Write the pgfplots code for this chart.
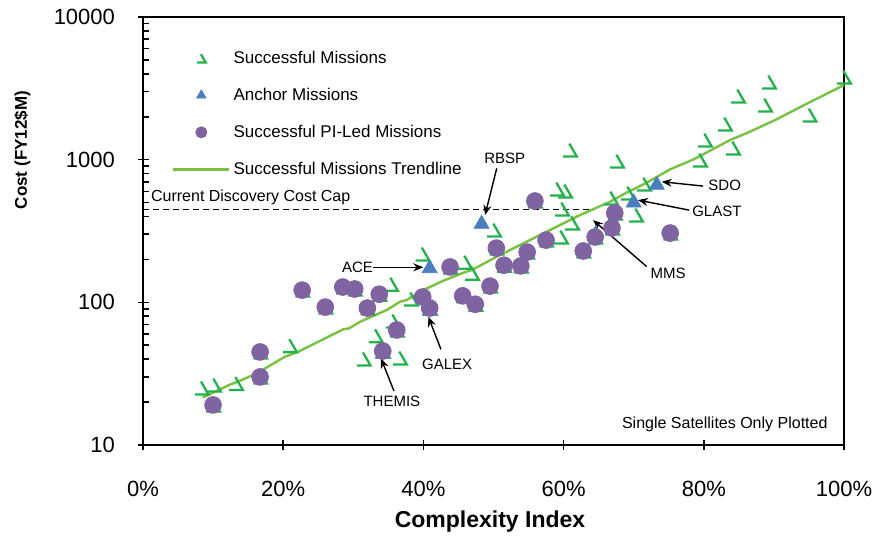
\documentclass[border=0pt]{standalone}
\usepackage{fontspec}
\setmainfont{Liberation Sans}
\usepackage{pgfplots}
\pgfplotsset{compat=1.18}
\usetikzlibrary{arrows.meta}

\definecolor{missgreen}{RGB}{34,177,76}
\definecolor{trendgreen}{RGB}{122,193,66}
\definecolor{anchorblue}{RGB}{74,126,190}
\definecolor{pipurple}{RGB}{128,100,162}

% green "successful mission" marker: slanted stroke with a flat foot
\pgfdeclareplotmark{miss}{%
  \pgfpathmoveto{\pgfqpoint{-0.1\pgfplotmarksize}{0.95\pgfplotmarksize}}%
  \pgfpathlineto{\pgfqpoint{\pgfplotmarksize}{-0.95\pgfplotmarksize}}%
  \pgfpathlineto{\pgfqpoint{-\pgfplotmarksize}{-0.95\pgfplotmarksize}}%
  \pgfusepathqstroke}

\pgfplotstableread{
x y
8.37 25.1
10.13 26.3
13.27 27.0
20.97 49.7
31.48 40.1
36.66 40.7
33.2 58.3
35.66 74.0
35.38 134
39.87 218
38.23 105.5
45.93 191
46.93 160
50.07 321
60.91 1167
67.62 977
59.06 622
60.2 603
59.77 451
61.2 360
59.63 287
66.76 538
69.19 583
70.33 409
71.47 675
89.3 3500
84.88 2791
88.73 2413
95.08 2053
83.02 1776
80.17 1372
84.17 1206
79.46 993
100 3791
9.99 19.1
16.7 44.9
16.7 30.0
22.7 121.8
26.0 92.6
28.5 128
30.2 124
32.0 91.2
33.7 114
34.2 45.6
36.2 64
39.9 109
40.9 91.2
43.8 177
45.6 111
47.4 97
49.5 130
50.4 240
51.5 182
53.9 180
54.8 225
55.9 513
57.5 273
62.8 229
64.5 287
66.9 332
67.3 423
75.2 306
}\successful

\pgfplotstableread{
x y
9.99 19.1
16.7 44.9
16.7 30.0
22.7 121.8
26.0 92.6
28.5 128
30.2 124
32.0 91.2
33.7 114
34.2 45.6
36.2 64
39.9 109
40.9 91.2
43.8 177
45.6 111
47.4 97
49.5 130
50.4 240
51.5 182
53.9 180
54.8 225
55.9 513
57.5 273
62.8 229
64.5 287
66.9 332
67.3 423
75.2 306
}\piled

\pgfplotstableread{
x y
48.3 354
40.9 173
73.3 664
70.0 499
64.6 300
34.2 43.5
40.9 87
}\anchors

\pgfplotstableread{
x y
8.52 21.5
12.41 26.5
13.55 27.8
16.22 31.8
20.26 41.6
22.11 44.9
23.11 47.6
28.57 64.7
29.39 65.7
30.96 73.1
34.76 88.3
36.66 101
37.62 103.8
39.99 122
42.84 141.7
45.69 161.2
46.89 168.4
50.46 208.7
55.21 273.3
59.01 338.8
62.20 405.8
66.62 507
69.00 588
71.85 689
75.18 855
78.50 1002
83.74 1372
86.31 1549
90.16 1894
94.44 2432
100 3334
}\trend

\begin{document}
\begin{tikzpicture}
\useasboundingbox (0,0) rectangle (438pt,268pt);
\begin{axis}[
  at={(71.5pt,45.5pt)}, anchor=south west,
  scale only axis, width=350.5pt, height=214pt,
  xmin=0, xmax=100, ymode=log, ymin=10, ymax=10000,
  xtick={0,20,40,60,80,100},
  xticklabels={0\%,20\%,40\%,60\%,80\%,100\%},
  ytick={10,100,1000,10000},
  yticklabels={10,100,1000,10000},
  xtick pos=bottom, ytick pos=left,
  tick align=center,
  major tick length=5pt,
  minor tick length=3pt,
  every minor tick/.append style={xshift=1.5pt},
  every tick/.append style={black, line width=0.8pt},
  axis line style={line width=1pt},
  /pgf/number format/assume math mode=true,
  tick label style={font=\fontsize{11}{13}\selectfont},
  xticklabel style={yshift=-12pt},
  yticklabel style={xshift=-8pt},
  xlabel style={font=\bfseries\fontsize{11.5}{13}\selectfont,
    at={(axis description cs:0.495,-0.18)}, anchor=center},
  ylabel style={font=\bfseries\fontsize{8.5}{10}\selectfont,
    at={(axis description cs:-0.172,0.689)}, anchor=center},
  xlabel={Complexity Index},
  ylabel={Cost (FY12\$M)},
  clip=false,
  legend cell align=left,
  legend style={at={(axis description cs:0.041,0.93)}, anchor=north west,
    draw=none, fill=none, inner sep=0pt, row sep=7.5pt,
    font=\fontsize{8.5}{10}\selectfont,
    nodes={inner sep=1.5pt, text height=6.5pt, text depth=1.5pt}},
]
\addplot[forget plot, black, line width=0.5pt, dash pattern=on 3pt off 2pt]
  coordinates {(0,450) (63.8,450)};

\addplot[only marks, mark=miss, mark size=3.4pt, missgreen, line width=1.15pt,
  legend image code/.code={\draw[mark repeat=2, mark phase=2, mark size=2.2pt]
    plot coordinates {(0pt,0pt) (14pt,0pt) (28pt,0pt)};}]
  table[x=x, y=y] {\successful};
\addlegendentry{Successful Missions}

\addplot[only marks, mark=triangle*, mark size=4.3pt, anchorblue,
  mark options={draw=none, fill=anchorblue},
  legend image code/.code={\draw[mark repeat=2, mark phase=2, mark size=2.7pt]
    plot coordinates {(0pt,0pt) (14pt,0pt) (28pt,0pt)};}]
  table[x=x, y=y] {\anchors};
\addlegendentry{Anchor Missions}

\addplot[only marks, mark=*, mark size=4.2pt, pipurple,
  mark options={draw=none, fill=pipurple},
  legend image code/.code={\draw[mark repeat=2, mark phase=2, mark size=2.8pt]
    plot coordinates {(0pt,0pt) (14pt,0pt) (28pt,0pt)};}]
  table[x=x, y=y] {\piled};
\addlegendentry{Successful PI-Led Missions}

\addplot[trendgreen, line width=1.2pt, no marks,
  legend image code/.code={\draw (0pt,0pt) -- (28pt,0pt);}]
  table[x=x, y=y] {\trend};
\addlegendentry{Successful Missions Trendline}

\begin{scope}[every node/.style={font=\fontsize{7.5}{9}\selectfont},
  ann/.style={black, line width=0.7pt, -{Stealth[length=5pt,width=4pt]}}]
  \node[anchor=west, inner sep=0pt, font=\fontsize{8}{9}\selectfont]
    at (axis cs:1.1,547) {Current Discovery Cost Cap};
  \node[anchor=east, inner sep=0pt, font=\fontsize{8}{9}\selectfont]
    at (axis cs:97.7,14.0) {Single Satellites Only Plotted};
  \node at (axis cs:51.6,1026) {RBSP};
  \draw[ann] (axis cs:50.46,869) -- (axis cs:48.79,409);
  \node[anchor=east, inner sep=0pt] at (axis cs:32.85,176) {ACE};
  \draw[ann] (axis cs:32.85,176) -- (axis cs:39.99,176);
  \node[anchor=west, inner sep=0pt] at (axis cs:80.6,664) {SDO};
  \draw[ann] (axis cs:79.9,653) -- (axis cs:74.0,700);
  \node[anchor=west, inner sep=0pt] at (axis cs:78.3,436) {GLAST};
  \draw[ann] (axis cs:77.9,443) -- (axis cs:70.6,521);
  \node at (axis cs:74.9,160) {MMS};
  \draw[ann] (axis cs:71.85,178) -- (axis cs:64.2,377);
  \node at (axis cs:43.4,36.9) {GALEX};
  \draw[ann] (axis cs:42.5,46.8) -- (axis cs:40.7,79.3);
  \node at (axis cs:35.5,20.3) {THEMIS};
  \draw[ann] (axis cs:35.8,23.9) -- (axis cs:33.95,40.5);
\end{scope}
\end{axis}
\end{tikzpicture}
\end{document}
